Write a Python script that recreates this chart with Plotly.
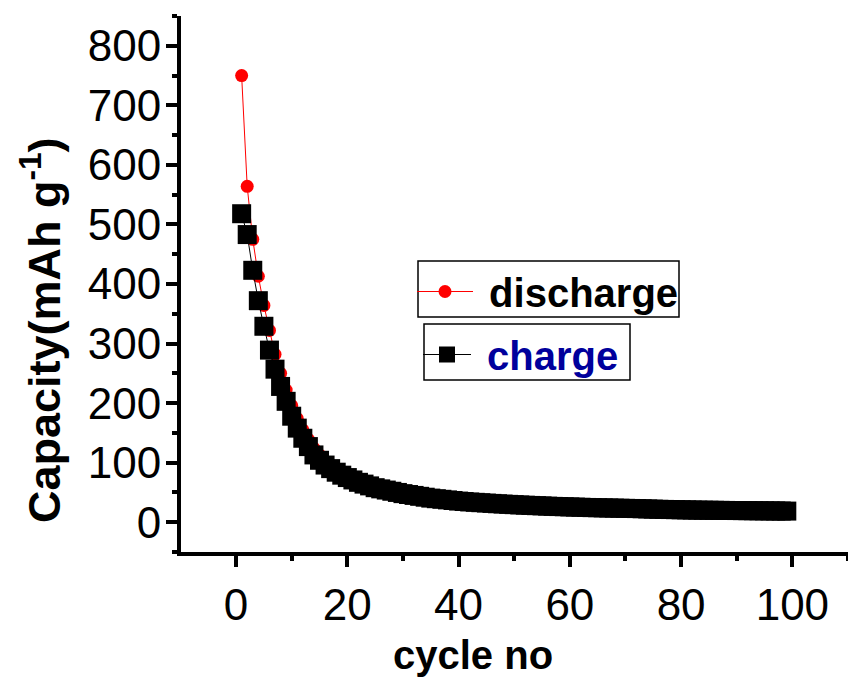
import plotly.graph_objects as go

cycles = list(range(1, 100))

discharge = [750, 564, 475, 413, 364, 322, 282, 250, 222, 196,
             174, 155, 139, 124, 113, 103, 96, 89, 84, 79,
             74, 70, 66, 63, 60, 57.5, 55.5, 53.5, 51.5, 49.5,
             47.5, 46, 44.5, 43, 41.5, 40.3, 39.3, 38.3, 37.3, 36.3,
             35.5, 34.7, 34.1, 33.5, 32.9, 32.3, 31.7, 31.2, 30.7, 30.2,
             29.7, 29.3, 28.9, 28.5, 28.1, 27.7, 27.3, 27, 26.7, 26.4,
             26.1, 25.8, 25.5, 25.2, 25, 24.8, 24.6, 24.4, 24.2, 24,
             23.8, 23.6, 23.3, 23, 22.7, 22.4, 22.2, 22, 21.8, 21.6,
             21.4, 21.2, 21, 20.9, 20.8, 20.7, 20.6, 20.5, 20.4, 20.3,
             20.2, 20.1, 20, 19.9, 19.8, 19.7, 19.6, 19.5, 19.4]

charge = [518, 483, 423, 372, 329, 289, 257, 228, 203, 178,
          158, 141, 127, 113, 104, 96, 90, 84, 79, 75,
          71, 67, 64, 61, 58, 56, 54, 52, 50, 48,
          46.5, 45, 43.5, 42, 40.5, 39.5, 38.5, 37.5, 36.5, 35.5,
          34.8, 34, 33.4, 32.8, 32.2, 31.6, 31, 30.5, 30, 29.5,
          29, 28.6, 28.2, 27.8, 27.4, 27, 26.6, 26.3, 26, 25.7,
          25.4, 25.1, 24.8, 24.5, 24.3, 24.1, 23.9, 23.7, 23.5, 23.3,
          23.1, 22.9, 22.6, 22.3, 22, 21.7, 21.5, 21.3, 21.1, 20.9,
          20.7, 20.5, 20.3, 20.2, 20.1, 20, 19.9, 19.8, 19.7, 19.6,
          19.5, 19.4, 19.3, 19.2, 19.1, 19, 18.9, 18.8, 18.7]

x_ticks = [0, 20, 40, 60, 80, 100]
y_ticks = [0, 100, 200, 300, 400, 500, 600, 700, 800]

FONT = "Liberation Sans, Arial, sans-serif"
NB = "\u00a0"

fig = go.Figure()
fig.add_trace(go.Scatter(
    x=cycles, y=discharge, mode="lines+markers", name=NB + "discharge",
    line=dict(color="#FF0000", width=1),
    marker=dict(symbol="circle", size=13, color="#FF0000", line=dict(width=0)),
    legend="legend", showlegend=True,
))
fig.add_trace(go.Scatter(
    x=cycles, y=charge, mode="lines+markers", name=NB + "charge",
    line=dict(color="#000000", width=1),
    marker=dict(symbol="square", size=19, color="#000000", line=dict(width=0)),
    legend="legend2", showlegend=True,
))

axis_common = dict(
    showline=True, linecolor="black", linewidth=4,
    ticks="outside", ticklen=11, tickwidth=4, tickcolor="black",
    showgrid=False, zeroline=False, mirror=False,
    tickfont=dict(family=FONT, size=44, color="black"),
)

box_line = dict(color="black", width=1.5)

fig.update_layout(
    width=848, height=677,
    margin=dict(l=181, r=0, t=16, b=125),
    paper_bgcolor="white", plot_bgcolor="white",
    showlegend=True,
    xaxis=dict(range=[-9.9, 110], tickmode="array", tickvals=x_ticks,
               minor=dict(dtick=10, tick0=0, ticks="outside", ticklen=5,
                          tickwidth=4, tickcolor="black"),
               **axis_common),
    yaxis=dict(range=[-50, 850], tickmode="array", tickvals=y_ticks,
               ticklabelstandoff=-4,
               minor=dict(dtick=50, tick0=0, ticks="outside", ticklen=5,
                          tickwidth=4, tickcolor="black"),
               **axis_common),
    legend=dict(x=(412 - 181) / 667, y=(552 - 259) / 536,
                xanchor="left", yanchor="top",
                borderwidth=0, bgcolor="rgba(0,0,0,0)",
                itemwidth=56, visible=True,
                font=dict(family=FONT, size=40, color="black", weight="bold")),
    legend2=dict(x=(418 - 181) / 667, y=(552 - 322) / 536,
                 xanchor="left", yanchor="top",
                 borderwidth=0, bgcolor="rgba(0,0,0,0)",
                 itemwidth=48, visible=True,
                 font=dict(family=FONT, size=40, color="#00009C", weight="bold")),
    shapes=[
        dict(type="rect", xref="paper", yref="paper",
             x0=(418 - 181) / 667, x1=(679 - 181) / 667,
             y0=(552 - 317) / 536, y1=(552 - 261) / 536,
             line=box_line, fillcolor="rgba(0,0,0,0)", layer="below"),
        dict(type="rect", xref="paper", yref="paper",
             x0=(424 - 181) / 667, x1=(630 - 181) / 667,
             y0=(552 - 380) / 536, y1=(552 - 324) / 536,
             line=box_line, fillcolor="rgba(0,0,0,0)", layer="below"),
    ],
    annotations=[
        dict(text="cycle no", xref="paper", yref="paper", x=0.438, y=-0.1925,
             xanchor="center", yanchor="middle", showarrow=False,
             font=dict(family=FONT, size=40, color="black", weight="bold")),
        dict(text="Capacity(mAh g<sup>-1</sup>)", xref="paper", yref="paper",
             x=(41 - 181) / 667, y=0.4142, xanchor="center", yanchor="middle",
             textangle=-90, showarrow=False,
             font=dict(family=FONT, size=45, color="black", weight="bold")),
    ],
)

fig.write_html("out.html")
